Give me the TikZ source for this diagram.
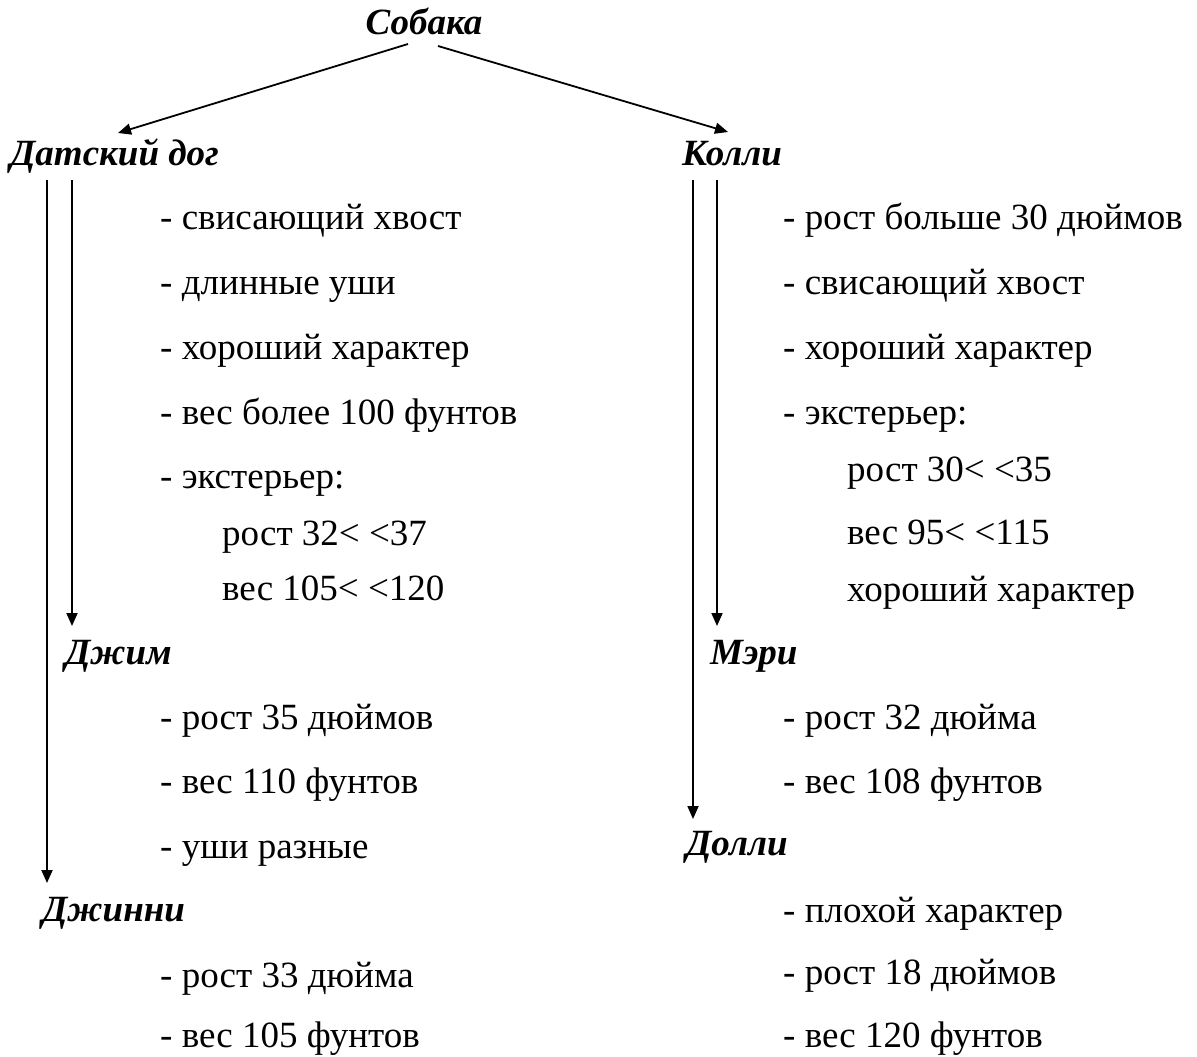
\documentclass[tikz,border=0pt]{standalone}
\usepackage{fontspec}
\setmainfont{Liberation Serif}
\usetikzlibrary{arrows.meta}

\tikzset{
  head/.style = {anchor = base west, inner sep = 0pt, font = \fontsize{37}{42}\selectfont\bfseries\itshape},
  item/.style = {anchor = base west, inner sep = 0pt, font = \fontsize{37}{42}\selectfont},
  link/.style = {line width = 1.8pt, -{Triangle[length = 13pt, width = 11pt]}}
}

\begin{document}
\begin{tikzpicture}[x = 1pt, y = -1pt]
  \useasboundingbox (0, 0) rectangle (1197, 1057);

  % top and the two breeds
  \node[head, anchor = base] (dog) at (424, 35) {Собака};
  \node[head] (dane) at (10, 165) {Датский дог};
  \node[head] (collie) at (682, 165) {Колли};

  \coordinate (dogL) at (408, 44);
  \coordinate (dogR) at (438, 46);
  \coordinate (daneT) at (118, 133);
  \coordinate (collieT) at (728, 132);
  \draw[link] (dogL) -- (daneT);
  \draw[link] (dogR) -- (collieT);

  % Great Dane
  \node[item] (d1) at (160, 229) {- свисающий хвост};
  \node[item] (d2) at (160, 294) {- длинные уши};
  \node[item] (d3) at (160, 359) {- хороший характер};
  \node[item] (d4) at (160, 424) {- вес более 100 фунтов};
  \node[item] (d5) at (160, 488) {- экстерьер:};
  \node[item] (d6) at (222, 545) {рост 32< <37};
  \node[item] (d7) at (222, 600) {вес 105< <120};

  \node[head] (jim) at (65, 664) {Джим};
  \node[item] (j1) at (160, 729) {- рост 35 дюймов};
  \node[item] (j2) at (160, 793) {- вес 110 фунтов};
  \node[item] (j3) at (160, 858) {- уши разные};

  \node[head] (ginny) at (42, 921) {Джинни};
  \node[item] (g1) at (160, 987) {- рост 33 дюйма};
  \node[item] (g2) at (160, 1047) {- вес 105 фунтов};

  % Collie
  \node[item] (c1) at (783, 229) {- рост больше 30 дюймов};
  \node[item] (c2) at (783, 294) {- свисающий хвост};
  \node[item] (c3) at (783, 359) {- хороший характер};
  \node[item] (c4) at (783, 424) {- экстерьер:};
  \node[item] (c5) at (847, 481) {рост 30< <35};
  \node[item] (c6) at (847, 544) {вес 95< <115};
  \node[item] (c7) at (847, 601) {хороший характер};

  \node[head] (mary) at (710, 664) {Мэри};
  \node[item] (m1) at (783, 729) {- рост 32 дюйма};
  \node[item] (m2) at (783, 793) {- вес 108 фунтов};

  \node[head] (dolly) at (686, 855) {Долли};
  \node[item] (o1) at (783, 922) {- плохой характер};
  \node[item] (o2) at (783, 984) {- рост 18 дюймов};
  \node[item] (o3) at (783, 1047) {- вес 120 фунтов};

  % descent lines
  \coordinate (daneA) at (47, 180);
  \coordinate (daneB) at (72, 180);
  \coordinate (collieA) at (693, 180);
  \coordinate (collieB) at (717, 180);

  \draw[link] (daneB) -- (72, 626);
  \draw[link] (daneA) -- (47, 883);
  \draw[link] (collieB) -- (717, 626);
  \draw[link] (collieA) -- (693, 819);
\end{tikzpicture}
\end{document}
